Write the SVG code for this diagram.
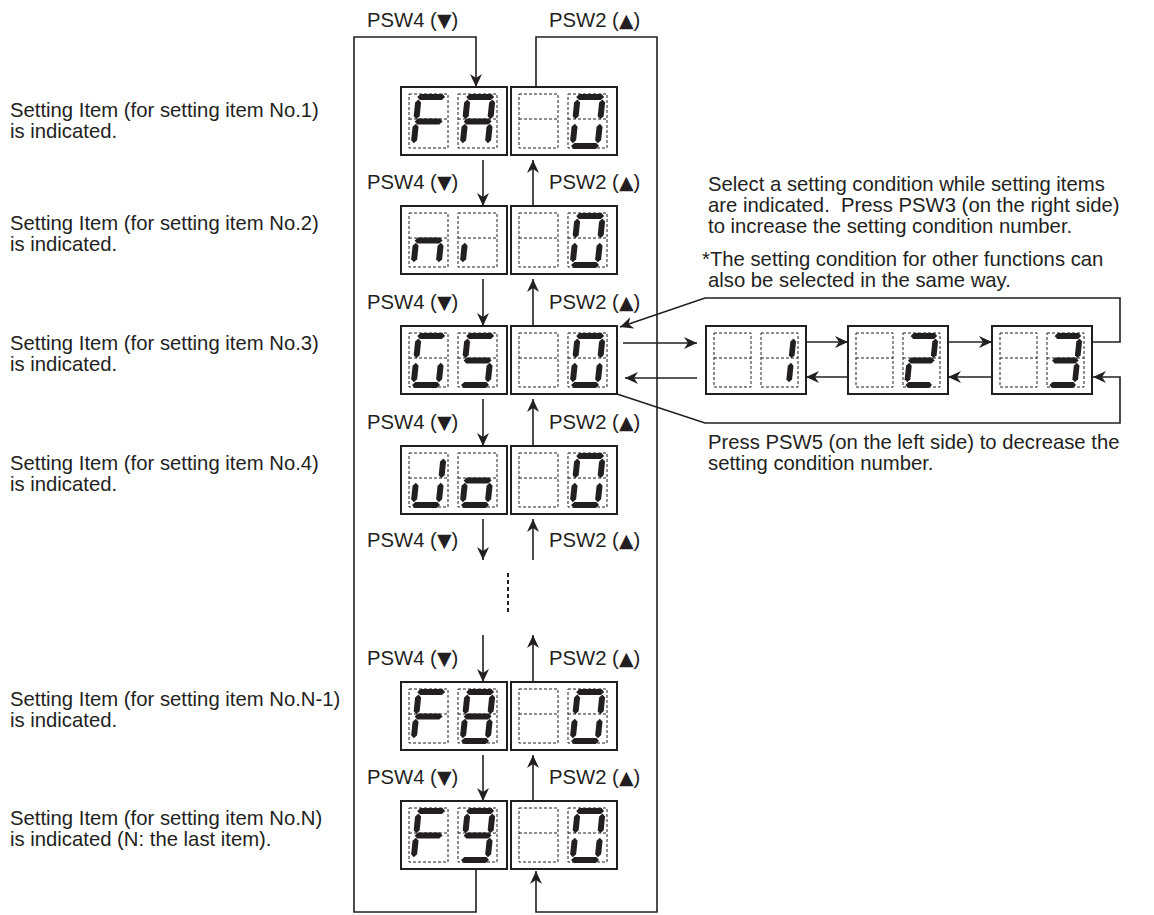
<svg xmlns="http://www.w3.org/2000/svg" width="1154" height="915" viewBox="0 0 1154 915">
<style>
text { font-family: "Liberation Sans", Arial, "DejaVu Sans", sans-serif; font-size: 20.3px; fill: #231f20; }
.tri { font-family: "DejaVu Sans", sans-serif; font-size: 19px; }
.box { fill: #fff; stroke: #231f20; stroke-width: 2; }
.cell { fill: none; stroke: #231f20; stroke-width: 1; stroke-dasharray: 3 2; }
.seg { fill: #231f20; }
.ln { fill: none; stroke: #231f20; stroke-width: 1.6; }
.arr { marker-end: url(#ah); }
.dots { fill: none; stroke: #231f20; stroke-width: 2; stroke-dasharray: 4 3; }
</style>
<defs>
<marker id="ah" markerUnits="userSpaceOnUse" viewBox="0 0 13 13" refX="13" refY="6.5" markerWidth="13" markerHeight="13" orient="auto">
<path d="M0,0.5 L13,6.5 L0,12.5 L4,6.5 z" fill="#231f20"/>
</marker>
<polygon id="sa" class="seg" points="1.5,3 4.5,0 26.5,0 29.5,3 26.5,6 4.5,6"/>
<polygon id="sb" class="seg" points="28,5.5 31,8.5 31,22.2 28,25.2 25,22.2 25,8.5"/>
<polygon id="sc" class="seg" points="28,29.8 31,32.8 31,46.2 28,49.2 25,46.2 25,32.8"/>
<polygon id="sd" class="seg" points="1.5,52 4.5,49 26.5,49 29.5,52 26.5,55 4.5,55"/>
<polygon id="se" class="seg" points="3,29.8 6,32.8 6,46.2 3,49.2 0,46.2 0,32.8"/>
<polygon id="sf" class="seg" points="3,5.5 6,8.5 6,22.2 3,25.2 0,22.2 0,8.5"/>
<polygon id="sg" class="seg" points="1.5,27.5 4.5,24.5 26.5,24.5 29.5,27.5 26.5,30.5 4.5,30.5"/>
<g id="cell"><rect class="cell" width="39" height="54"/><line class="cell" x1="0" y1="25" x2="39" y2="25"/></g>
<g id="scell"><rect class="cell" width="37" height="54"/><line class="cell" x1="0" y1="25" x2="37" y2="25"/></g>
<g id="d0"><use href="#sa"/><use href="#sb"/><use href="#sc"/><use href="#sd"/><use href="#se"/><use href="#sf"/></g>
<g id="d1"><use href="#sb"/><use href="#sc"/></g>
<g id="d2"><use href="#sa"/><use href="#sb"/><use href="#sg"/><use href="#se"/><use href="#sd"/></g>
<g id="d3"><use href="#sa"/><use href="#sb"/><use href="#sg"/><use href="#sc"/><use href="#sd"/></g>
<g id="d8"><use href="#sa"/><use href="#sb"/><use href="#sc"/><use href="#sd"/><use href="#se"/><use href="#sf"/><use href="#sg"/></g>
<g id="d9"><use href="#sa"/><use href="#sb"/><use href="#sc"/><use href="#sd"/><use href="#sf"/><use href="#sg"/></g>
<g id="dF"><use href="#sa"/><use href="#sf"/><use href="#sg"/><use href="#se"/></g>
<g id="dA"><use href="#sa"/><use href="#sb"/><use href="#sc"/><use href="#se"/><use href="#sf"/><use href="#sg"/></g>
<g id="dn"><use href="#sg"/><use href="#se"/><use href="#sc"/></g>
<g id="di"><use href="#se"/></g>
<g id="dG"><use href="#sa"/><use href="#sf"/><use href="#se"/><use href="#sd"/><use href="#sc"/></g>
<g id="dS"><use href="#sa"/><use href="#sf"/><use href="#sg"/><use href="#sc"/><use href="#sd"/></g>
<g id="dJ"><use href="#sb"/><use href="#sc"/><use href="#sd"/><use href="#se"/></g>
<g id="do"><use href="#sg"/><use href="#sc"/><use href="#sd"/><use href="#se"/></g>
</defs>
<rect width="1154" height="915" fill="#fff"/>

<g id="connectors">
<path class="ln" d="M476,870 V912 H354 V37 H476 V87" marker-end="url(#ah)"/>
<path class="ln" d="M536,87 V37 H657 V912 H536 V871" marker-end="url(#ah)"/>
<line class="ln arr" x1="483" y1="160" x2="483" y2="206"/>
<line class="ln arr" x1="533" y1="206" x2="533" y2="160"/>
<line class="ln arr" x1="483" y1="279" x2="483" y2="326"/>
<line class="ln arr" x1="533" y1="326" x2="533" y2="279"/>
<line class="ln arr" x1="483" y1="399" x2="483" y2="446"/>
<line class="ln arr" x1="533" y1="446" x2="533" y2="399"/>
<line class="ln arr" x1="483" y1="519" x2="483" y2="560"/>
<line class="ln arr" x1="533" y1="560" x2="533" y2="519"/>
<line class="dots" x1="508" y1="573" x2="508" y2="614"/>
<line class="ln arr" x1="483" y1="635" x2="483" y2="682"/>
<line class="ln arr" x1="533" y1="682" x2="533" y2="635"/>
<line class="ln arr" x1="483" y1="755" x2="483" y2="801"/>
<line class="ln arr" x1="533" y1="801" x2="533" y2="755"/>
<line class="ln arr" x1="623" y1="343" x2="697" y2="343"/>
<line class="ln arr" x1="697" y1="378" x2="625" y2="378"/>
<line class="ln arr" x1="806" y1="342" x2="848" y2="342"/>
<line class="ln arr" x1="948" y1="342" x2="992" y2="342"/>
<line class="ln arr" x1="992" y1="377" x2="948" y2="377"/>
<line class="ln arr" x1="848" y1="377" x2="806" y2="377"/>
<path class="ln" d="M1092,342 H1120 V298 H705 L620,327" marker-end="url(#ah)"/>
<path class="ln" d="M617,394 L705,423 H1120 V377 H1093" marker-end="url(#ah)"/>
</g>

<g id="row1">
<rect class="box" x="401" y="87" width="106" height="68"/><rect class="box" x="511" y="87" width="106" height="68"/>
<use href="#cell" x="409" y="94"/><use href="#cell" x="458" y="94"/><use href="#cell" x="519" y="94"/><use href="#cell" x="568" y="94"/>
<use href="#dF" transform="translate(416,94) skewX(-6)"/><use href="#dA" transform="translate(465,94) skewX(-6)"/><use href="#d0" transform="translate(575,94) skewX(-6)"/>
</g>
<g id="row2">
<rect class="box" x="401" y="206" width="106" height="68"/><rect class="box" x="511" y="206" width="106" height="68"/>
<use href="#cell" x="409" y="213"/><use href="#cell" x="458" y="213"/><use href="#cell" x="519" y="213"/><use href="#cell" x="568" y="213"/>
<use href="#dn" transform="translate(416,213) skewX(-6)"/><use href="#di" transform="translate(465,213) skewX(-6)"/><use href="#d0" transform="translate(575,213) skewX(-6)"/>
</g>
<g id="row3">
<rect class="box" x="401" y="326" width="106" height="68"/><rect class="box" x="511" y="326" width="106" height="68"/>
<use href="#cell" x="409" y="333"/><use href="#cell" x="458" y="333"/><use href="#cell" x="519" y="333"/><use href="#cell" x="568" y="333"/>
<use href="#dG" transform="translate(416,333) skewX(-6)"/><use href="#dS" transform="translate(465,333) skewX(-6)"/><use href="#d0" transform="translate(575,333) skewX(-6)"/>
</g>
<g id="row4">
<rect class="box" x="401" y="446" width="106" height="68"/><rect class="box" x="511" y="446" width="106" height="68"/>
<use href="#cell" x="409" y="453"/><use href="#cell" x="458" y="453"/><use href="#cell" x="519" y="453"/><use href="#cell" x="568" y="453"/>
<use href="#dJ" transform="translate(416,453) skewX(-6)"/><use href="#do" transform="translate(465,453) skewX(-6)"/><use href="#d0" transform="translate(575,453) skewX(-6)"/>
</g>
<g id="rowN-1">
<rect class="box" x="401" y="682" width="106" height="68"/><rect class="box" x="511" y="682" width="106" height="68"/>
<use href="#cell" x="409" y="689"/><use href="#cell" x="458" y="689"/><use href="#cell" x="519" y="689"/><use href="#cell" x="568" y="689"/>
<use href="#dF" transform="translate(416,689) skewX(-6)"/><use href="#d8" transform="translate(465,689) skewX(-6)"/><use href="#d0" transform="translate(575,689) skewX(-6)"/>
</g>
<g id="rowN">
<rect class="box" x="401" y="801" width="106" height="68"/><rect class="box" x="511" y="801" width="106" height="68"/>
<use href="#cell" x="409" y="808"/><use href="#cell" x="458" y="808"/><use href="#cell" x="519" y="808"/><use href="#cell" x="568" y="808"/>
<use href="#dF" transform="translate(416,808) skewX(-6)"/><use href="#d9" transform="translate(465,808) skewX(-6)"/><use href="#d0" transform="translate(575,808) skewX(-6)"/>
</g>

<g id="cond1">
<rect class="box" x="706" y="326" width="100" height="68"/>
<use href="#scell" x="714" y="333"/><use href="#scell" x="761" y="333"/>
<use href="#d1" transform="translate(767.5,333) skewX(-6) scale(0.95,1)"/>
</g>
<g id="cond2">
<rect class="box" x="848" y="326" width="100" height="68"/>
<use href="#scell" x="856" y="333"/><use href="#scell" x="903" y="333"/>
<use href="#d2" transform="translate(909.5,333) skewX(-6) scale(0.95,1)"/>
</g>
<g id="cond3">
<rect class="box" x="992" y="326" width="100" height="68"/>
<use href="#scell" x="1000" y="333"/><use href="#scell" x="1047" y="333"/>
<use href="#d3" transform="translate(1053.5,333) skewX(-6) scale(0.95,1)"/>
</g>

<g id="labels">
<text x="367" y="27">PSW4 (<tspan class="tri">▼</tspan>)</text><text x="549" y="27">PSW2 (<tspan class="tri">▲</tspan>)</text>
<text x="367" y="189">PSW4 (<tspan class="tri">▼</tspan>)</text><text x="549" y="189">PSW2 (<tspan class="tri">▲</tspan>)</text>
<text x="367" y="309">PSW4 (<tspan class="tri">▼</tspan>)</text><text x="549" y="309">PSW2 (<tspan class="tri">▲</tspan>)</text>
<text x="367" y="429">PSW4 (<tspan class="tri">▼</tspan>)</text><text x="549" y="429">PSW2 (<tspan class="tri">▲</tspan>)</text>
<text x="367" y="547">PSW4 (<tspan class="tri">▼</tspan>)</text><text x="549" y="547">PSW2 (<tspan class="tri">▲</tspan>)</text>
<text x="367" y="665">PSW4 (<tspan class="tri">▼</tspan>)</text><text x="549" y="665">PSW2 (<tspan class="tri">▲</tspan>)</text>
<text x="367" y="784">PSW4 (<tspan class="tri">▼</tspan>)</text><text x="549" y="784">PSW2 (<tspan class="tri">▲</tspan>)</text>
</g>

<g id="descriptions">
<text x="10" y="116.5">Setting Item (for setting item No.1)<tspan x="10" dy="21">is indicated.</tspan></text>
<text x="10" y="229.5">Setting Item (for setting item No.2)<tspan x="10" dy="21">is indicated.</tspan></text>
<text x="10" y="349.5">Setting Item (for setting item No.3)<tspan x="10" dy="21">is indicated.</tspan></text>
<text x="10" y="469.5">Setting Item (for setting item No.4)<tspan x="10" dy="21">is indicated.</tspan></text>
<text x="10" y="705.5">Setting Item (for setting item No.N-1)<tspan x="10" dy="21">is indicated.</tspan></text>
<text x="10" y="824.5">Setting Item (for setting item No.N)<tspan x="10" dy="21">is indicated (N: the last item).</tspan></text>
</g>

<g id="notes">
<text x="708" y="191" xml:space="preserve">Select a setting condition while setting items<tspan x="708" dy="21">are indicated.  Press PSW3 (on the right side)</tspan><tspan x="708" dy="21">to increase the setting condition number.</tspan></text>
<text x="702" y="266">*The setting condition for other functions can<tspan x="708" dy="21">also be selected in the same way.</tspan></text>
<text x="708" y="449">Press PSW5 (on the left side) to decrease the<tspan x="708" dy="21">setting condition number.</tspan></text>
</g>
</svg>
